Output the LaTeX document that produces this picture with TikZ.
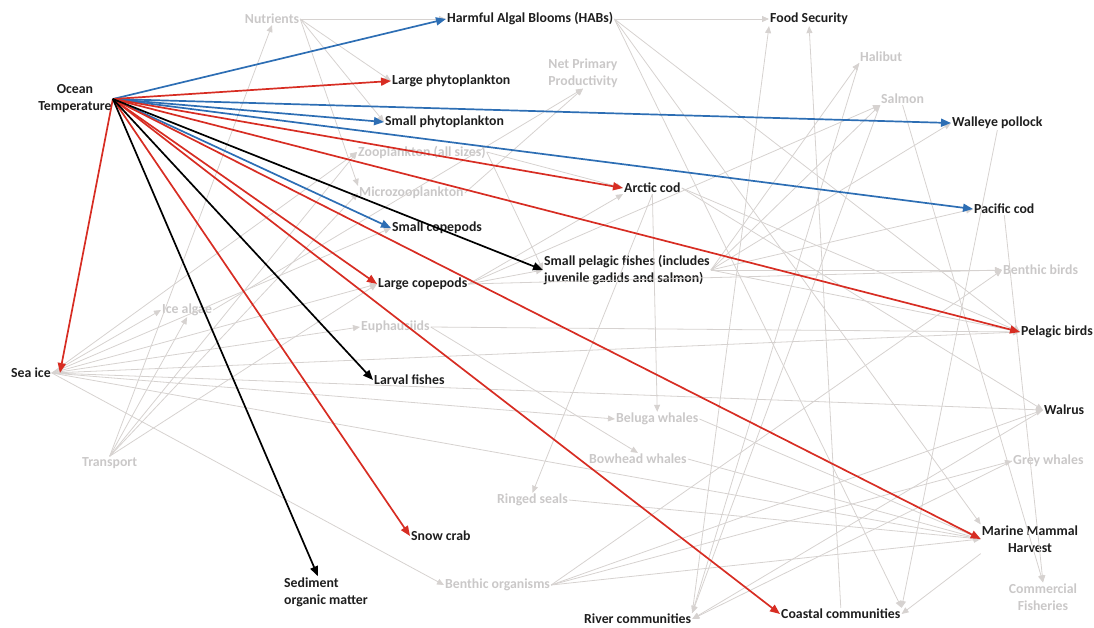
\documentclass[tikz,border=0pt]{standalone}
\usepackage{fontspec}
\setmainfont{Carlito}
\usetikzlibrary{arrows.meta}
\definecolor{warmred}{RGB}{215,45,35}
\definecolor{coolblue}{RGB}{45,110,180}
\definecolor{linkgray}{RGB}{214,210,208}
\definecolor{fainttext}{RGB}{202,200,200}
\definecolor{darktext}{RGB}{30,30,30}
\tikzset{
  lab/.style={font=\fontsize{13.8}{17}\selectfont\bfseries, text=darktext, inner sep=1pt},
  faint/.style={lab, text=fainttext},
  strong/.style={line width=1.7pt, -{Triangle[length=10pt,width=8pt]}},
  redarr/.style={strong, warmred},
  bluearr/.style={strong, coolblue},
  blackarr/.style={strong, black},
  gline/.style={draw=linkgray, line width=0.8pt, -{Triangle[length=7pt,width=6pt]}}
}

\begin{document}
\begin{tikzpicture}[x=1pt, y=-1pt]
    \useasboundingbox (0,0) rectangle (1094,627);
    % driver and the main labels
    \node[lab, align=center] (ot) at (75,99) {Ocean\\Temperature};
    \node[lab, anchor=west] (habs) at (446,19) {Harmful Algal Blooms (HABs)};
    \node[lab, anchor=west] (food) at (769,19) {Food Security};
    \node[lab, anchor=west] (lphy) at (391,81) {Large phytoplankton};
    \node[lab, anchor=west] (sphy) at (384,122) {Small phytoplankton};
    \node[lab, anchor=west] (wpol) at (951,123) {Walleye pollock};
    \node[lab, anchor=west] (acod) at (623,188) {Arctic cod};
    \node[lab, anchor=west] (pcod) at (973,209) {Pacific cod};
    \node[lab, anchor=west] (scop) at (391,228) {Small copepods};
    \node[lab, anchor=west, align=left] (spf) at (543,270) {Small pelagic fishes (includes\\juvenile gadids and salmon)};
    \node[lab, anchor=west] (lcop) at (377,284) {Large copepods};
    \node[lab, anchor=west] (pbird) at (1020,332) {Pelagic birds};
    \node[lab, anchor=west] (seaice) at (10,373) {Sea ice};
    \node[lab, anchor=west] (larv) at (373,380) {Larval fishes};
    \node[lab, anchor=west] (walrus) at (1043,410) {Walrus};
    \node[lab, align=center] (mmh) at (1030,539) {Marine Mammal\\Harvest};
    \node[lab, anchor=west] (snow) at (410,536) {Snow crab};
    \node[lab, anchor=west, align=left] (sed) at (283,592) {Sediment\\organic matter};
    \node[lab, anchor=west] (river) at (583,619) {River communities};
    \node[lab, anchor=west] (coast) at (780,614) {Coastal communities};
    % faded background labels
    \node[faint] (nut) at (272,19) {Nutrients};
    \node[faint, align=center] (npp) at (583,73) {Net Primary\\Productivity};
    \node[faint, anchor=west] (hal) at (859,57) {Halibut};
    \node[faint, anchor=west] (sal) at (880,99) {Salmon};
    \node[faint, anchor=west] (zoo) at (357,152) {Zooplankton (all sizes)};
    \node[faint, anchor=west] (micro) at (358,193) {Microzooplankton};
    \node[faint, anchor=west] (ice) at (161,310) {Ice algae};
    \node[faint, anchor=west] (euph) at (360,327) {Euphausiids};
    \node[faint, anchor=west] (trans) at (81,463) {Transport};
    \node[faint, anchor=west] (bel) at (615,419) {Beluga whales};
    \node[faint, anchor=west] (bow) at (588,459) {Bowhead whales};
    \node[faint, anchor=west] (ring) at (496,500) {Ringed seals};
    \node[faint, anchor=west] (bent) at (444,585) {Benthic organisms};
    \node[faint, anchor=west] (bbird) at (1002,270) {Benthic birds};
    \node[faint, anchor=west] (grey) at (1012,461) {Grey whales};
    \node[faint, align=center] (comm) at (1043,597) {Commercial\\Fisheries};

    % grey web of the other links
    \foreach \a/\b in {trans.north/nut.south, trans.north/zoo.west, trans.north/micro.west,
        trans.north/lcop.west, trans.north/ice.south,
        seaice.east/ice.west, seaice.east/zoo.west, seaice.east/lcop.west, seaice.east/scop.west,
        seaice.east/euph.west, seaice.east/pbird.west, seaice.east/walrus.west,
        seaice.east/bel.west, seaice.east/bent.west, seaice.east/mmh.west,
        nut.east/lphy.west, nut.east/sphy.west, nut.east/habs.west, nut.east/micro.north west,
        ice.east/npp.south, micro.east/npp.south,
        zoo.east/acod.west, zoo.east/spf.west, lcop.east/spf.west, lcop.east/acod.south west,
        lcop.east/sal.south west, lcop.east/bbird.west,
        euph.east/bow.north, euph.east/pbird.west, acod.south/bel.north, acod.south/ring.north,
        acod.east/pbird.west, acod.east/walrus.west,
        spf.east/hal.south west, spf.east/sal.south west, spf.east/wpol.west, spf.east/pcod.west,
        spf.east/bbird.west, spf.east/pbird.west,
        habs.east/food.west, habs.east/mmh.north west, habs.east/coast.north east, habs.east/pbird.west,
        river.north east/food.south west, coast.north/food.south,
        sal.south/comm.north, pcod.south/comm.north, sal.south west/river.north east,
        hal.south west/river.north east,
        bel.east/mmh.west, bow.east/mmh.west, ring.east/mmh.west,
        bent.east/grey.west, bent.east/walrus.west, bent.east/bbird.west, bent.east/mmh.west,
        mmh.south west/coast.east, walrus.west/river.east, grey.west/river.east,
        wpol.south/coast.north east}
      \draw[gline] (\a) -- (\b);

    % effects of ocean temperature
    \foreach \t in {habs, sphy, wpol, pcod, scop}
      \draw[bluearr] (ot.east) -- (\t.west);
    \foreach \t in {lphy, acod, pbird, lcop, snow, mmh, coast}
      \draw[redarr] (ot.east) -- (\t.west);
    \draw[redarr] (ot.east) -- ([xshift=8pt]seaice.east);
    \foreach \t in {spf, larv}
      \draw[blackarr] (ot.east) -- (\t.west);
    \draw[blackarr] (ot.east) -- ([xshift=-8pt]sed.north);
\end{tikzpicture}
\end{document}
